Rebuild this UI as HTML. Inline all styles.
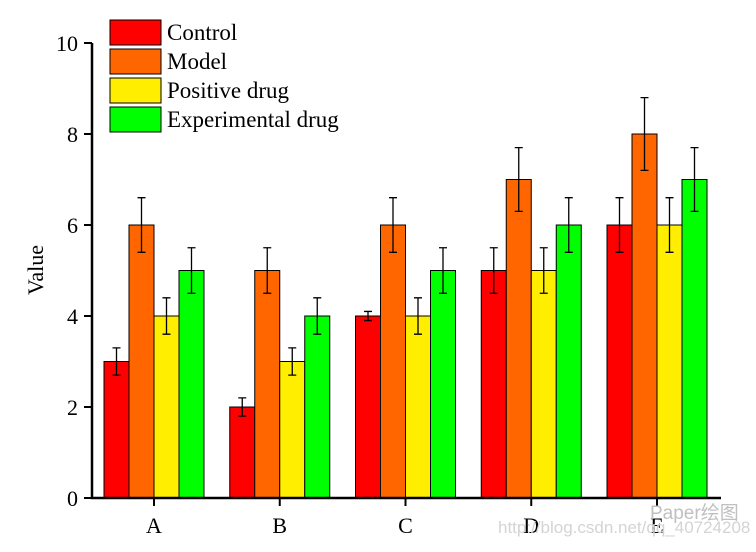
<!DOCTYPE html>
<html><head><meta charset="utf-8"><style>
body{margin:0;background:#fff}
svg text{font-family:"Liberation Serif",serif;fill:#000}
</style></head><body>
<svg id="chart" width="756" height="547" viewBox="0 0 756 547" xmlns="http://www.w3.org/2000/svg">
<g id="bars"></g>
<g id="axes"></g>
<g id="legend"></g>
<text transform="translate(43,270) rotate(-90)" text-anchor="middle" font-size="22">Value</text>
<text x="650" y="519" style="fill:#c0c0c0;font-family:'Liberation Sans','Noto Sans CJK SC',sans-serif;font-size:19px">Paper绘图</text>
<text x="498" y="533" style="fill:#d4d4d4;font-family:'Liberation Sans',sans-serif;font-size:17px">http://blog.csdn.net/qq_40724208</text>
</svg>
<script>
const categories=["A","B","C","D","E"];
const seriesNames=["Control","Model","Positive drug","Experimental drug"];
const colors=["#ff0000","#ff6600","#ffee00","#00ff00"];
const control=[3,2,4,5,6];
const model=[6,5,6,7,8];
const positive=[4,3,4,5,6];
const experimental=[5,4,5,6,7];
const controlErr=[0.3,0.2,0.1,0.5,0.6];
const modelErr=[0.6,0.5,0.6,0.7,0.8];
const positiveErr=[0.4,0.3,0.4,0.5,0.6];
const experimentalErr=[0.5,0.4,0.5,0.6,0.7];
const yTicks=[0,2,4,6,8,10];
const series=[control,model,positive,experimental];
const errs=[controlErr,modelErr,positiveErr,experimentalErr];
const NS="http://www.w3.org/2000/svg";
const y0=498,y10=43,x0=92,x1=721,c0=154,step=125.75,bw=25;
const y=v=>y0-(v/10)*(y0-y10);
const xc=i=>c0+i*step;
function mk(tag,attrs,parent){const e=document.createElementNS(NS,tag);for(const k in attrs)e.setAttribute(k,attrs[k]);parent.appendChild(e);return e;}
const bars=document.getElementById('bars'),axes=document.getElementById('axes'),legend=document.getElementById('legend');
categories.forEach((c,i)=>{
  series.forEach((s,j)=>{
    const bx=xc(i)-2*bw+j*bw,top=y(s[i]);
    const r=mk('rect',{x:bx,y:top,width:bw,height:y0-top,fill:colors[j],stroke:'#000','stroke-width':1},bars);
    
    
    const cx=bx+bw/2,hi=y(s[i]+errs[j][i]),lo=y(s[i]-errs[j][i]);
    const g=mk('path',{d:`M${cx},${hi}V${lo}M${cx-4},${hi}H${cx+4}M${cx-4},${lo}H${cx+4}`,stroke:'#000','stroke-width':1.3,fill:'none'},bars);
    
    
  });
  const t=mk('line',{x1:xc(i),x2:xc(i),y1:y0,y2:y0+8,stroke:'#000','stroke-width':2},axes);
  
  
  const l=mk('text',{x:xc(i),y:y0+35,'text-anchor':'middle','font-size':22},axes);
  l.textContent=c;
  
  
});
const ax=mk('path',{d:`M${x0},${y10}V${y0}H${x1}`,stroke:'#000','stroke-width':2.5,fill:'none'},axes);


yTicks.forEach(v=>{
  const t=mk('line',{x1:x0-8,x2:x0,y1:y(v),y2:y(v),stroke:'#000','stroke-width':2},axes);
  
  
  const l=mk('text',{x:x0-14,y:y(v)+8,'text-anchor':'end','font-size':22},axes);
  l.textContent=v;
  
  
});
seriesNames.forEach((n,j)=>{
  const yy=20+j*29;
  const r=mk('rect',{x:110,y:yy,width:51,height:25,fill:colors[j],stroke:'#000','stroke-width':1},legend);
  
  
  const t=mk('text',{x:167,y:yy+20,'font-size':23},legend);
  t.textContent=n;
  
  
});
</script>
</body></html>
